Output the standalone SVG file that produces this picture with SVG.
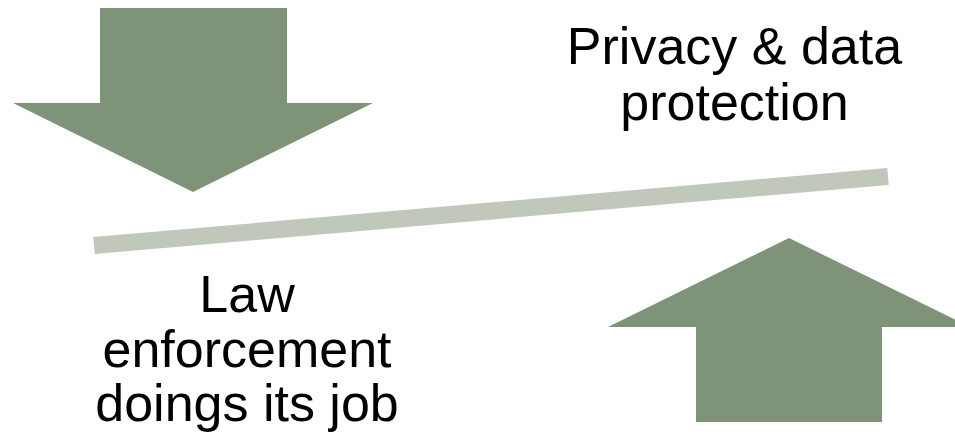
<svg xmlns="http://www.w3.org/2000/svg" width="955" height="436" viewBox="0 0 955 436">
<style>
.arrow{fill:#7E9377;}
.beam{stroke:#C0C8BC;stroke-width:17;stroke-linecap:butt;fill:none;}
.lbl{font-family:"Liberation Sans",Arial,sans-serif;font-size:52px;fill:#000;text-anchor:middle;}
</style>
<rect width="955" height="436" fill="#fff"/>
<g id="connectors">
<line class="beam" x1="94" y1="245.5" x2="888" y2="176.5"/>
</g>
<g id="arrow-down">
<polygon class="arrow" points="100,8 287,8 287,103 373,103 193,192 13,103 100,103"/>
</g>
<g id="arrow-up">
<polygon class="arrow" points="789,238 970,327 882,327 882,422 696,422 696,327 608,327"/>
</g>
<g id="privacy">
<text class="lbl" x="734.5" y="64">Privacy &amp; data</text>
<text class="lbl" x="734.5" y="120">protection</text>
</g>
<g id="law">
<text class="lbl" x="247" y="312">Law</text>
<text class="lbl" x="247" y="367">enforcement</text>
<text class="lbl" x="247" y="421">doings its job</text>
</g>
</svg>
